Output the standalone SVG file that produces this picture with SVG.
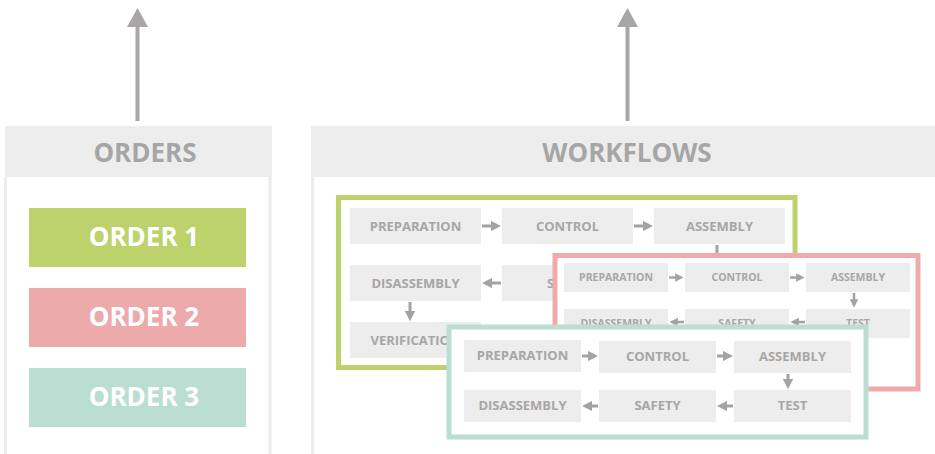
<svg xmlns="http://www.w3.org/2000/svg" width="935" height="454" viewBox="0 0 935 454">
<style>
.hdr{fill:#ecedec}
.side{stroke:#ececec;stroke-width:3;fill:none}
.htxt{font-family:"Open Sans","Liberation Sans",sans-serif;font-weight:bold;font-size:26px;fill:#a6a6a6;text-anchor:middle}
.otxt{font-family:"Open Sans","Liberation Sans",sans-serif;font-weight:bold;font-size:26px;fill:#ffffff;text-anchor:middle}
.box{fill:#ecedec}
.t13{font-family:"Open Sans","Liberation Sans",sans-serif;font-weight:bold;font-size:13px;fill:#a8a6a6;text-anchor:middle}
.t10{font-family:"Open Sans","Liberation Sans",sans-serif;font-weight:bold;font-size:10.5px;fill:#a8a6a6;text-anchor:middle}
.frame{fill:#ffffff;stroke-width:5}
.arr{stroke:#a5a2a2;stroke-width:3;fill:none;marker-end:url(#ah)}
.arrs{stroke:#a5a2a2;stroke-width:2.5;fill:none;marker-end:url(#ah)}
.up{stroke:#a9a6a6;stroke-width:4}
.uph{fill:#a9a6a6}
</style>
<defs>
<marker id="ah" viewBox="0 0 10 10" refX="1" refY="5" markerWidth="3.4" markerHeight="3.4" orient="auto" markerUnits="strokeWidth">
<path d="M0,0 L10,5 L0,10 z" fill="#a5a2a2"/>
</marker>
<clipPath id="clipSafety"><rect x="500" y="260" width="53" height="45"/></clipPath>
</defs>

<g id="orders-panel">
<rect class="hdr" x="5" y="126" width="267" height="51"/>
<line class="side" x1="5.5" y1="177" x2="5.5" y2="454"/>
<line class="side" x1="270" y1="177" x2="270" y2="454"/>
<text class="htxt" x="145" y="162">ORDERS</text>
</g>
<g id="workflows-panel">
<rect class="hdr" x="311" y="126" width="624" height="51"/>
<line class="side" x1="312.5" y1="177" x2="312.5" y2="454"/>
<text class="htxt" x="627" y="162">WORKFLOWS</text>
</g>

<g id="order1"><rect x="29" y="208" width="217" height="59" fill="#bdd26a"/><text class="otxt" x="144" y="246">ORDER 1</text></g>
<g id="order2"><rect x="29" y="288" width="217" height="59" fill="#edaaab"/><text class="otxt" x="144" y="326">ORDER 2</text></g>
<g id="order3"><rect x="29" y="368" width="217" height="59" fill="#bbded2"/><text class="otxt" x="144" y="406">ORDER 3</text></g>

<g id="up-arrows">
<line class="up" x1="137.5" y1="121" x2="137.5" y2="24"/>
<polygon class="uph" points="127,27 148,27 137.5,8"/>
<line class="up" x1="627.5" y1="121" x2="627.5" y2="24"/>
<polygon class="uph" points="617,27 638,27 627.5,8"/>
</g>

<g id="workflow1">
<rect class="frame" stroke="#bdd26a" x="338.5" y="197.5" width="456.5" height="170"/>
<g id="w1-preparation"><rect class="box" x="350" y="208" width="131" height="36"/><text class="t13" x="415.5" y="231">PREPARATION</text></g>
<g id="w1-control"><rect class="box" x="502" y="208" width="131" height="36"/><text class="t13" x="567.5" y="231">CONTROL</text></g>
<g id="w1-assembly"><rect class="box" x="654" y="208" width="131" height="36"/><text class="t13" x="719.5" y="231">ASSEMBLY</text></g>
<g id="w1-disassembly"><rect class="box" x="350" y="265" width="131" height="36"/><text class="t13" x="415.5" y="288">DISASSEMBLY</text></g>
<g id="w1-safety"><rect class="box" x="502" y="265" width="131" height="36"/><text class="t13" x="570" y="288" clip-path="url(#clipSafety)">SAFETY</text></g>
<g id="w1-verification"><rect class="box" x="350" y="322" width="131" height="36"/><text class="t13" x="415.5" y="345">VERIFICATION</text></g>
<g id="w1-connectors">
<line class="arr" x1="482" y1="226" x2="492" y2="226"/>
<line class="arr" x1="634" y1="226" x2="644" y2="226"/>
<line class="arr" x1="717" y1="245" x2="717" y2="262"/>
<line class="arr" x1="501" y1="283" x2="491" y2="283"/>
<line class="arr" x1="410" y1="302" x2="410" y2="312"/>
</g>
</g>

<g id="workflow2">
<rect class="frame" stroke="#efabac" x="555" y="255.5" width="363" height="133.5"/>
<g id="w2-preparation"><rect class="box" x="564" y="263" width="104" height="29"/><text class="t10" x="616" y="281">PREPARATION</text></g>
<g id="w2-control"><rect class="box" x="685" y="263" width="104" height="29"/><text class="t10" x="737" y="281">CONTROL</text></g>
<g id="w2-assembly"><rect class="box" x="806" y="263" width="104" height="29"/><text class="t10" x="858" y="281">ASSEMBLY</text></g>
<g id="w2-disassembly"><rect class="box" x="564" y="309" width="104" height="29"/><text class="t10" x="616" y="327">DISASSEMBLY</text></g>
<g id="w2-safety"><rect class="box" x="685" y="309" width="104" height="29"/><text class="t10" x="737" y="327">SAFETY</text></g>
<g id="w2-test"><rect class="box" x="806" y="309" width="104" height="29"/><text class="t10" x="858" y="327">TEST</text></g>
<g id="w2-connectors">
<line class="arrs" x1="669" y1="277.5" x2="676" y2="277.5"/>
<line class="arrs" x1="790" y1="277.5" x2="797" y2="277.5"/>
<line class="arrs" x1="854" y1="293" x2="854" y2="300"/>
<line class="arrs" x1="805" y1="322" x2="798" y2="322"/>
<line class="arrs" x1="684" y1="322" x2="677" y2="322"/>
</g>
</g>

<g id="workflow3">
<rect class="frame" stroke="#bbded2" stroke-width="5.5" x="449" y="327" width="417" height="110"/>
<g id="w3-preparation"><rect class="box" x="464" y="340" width="117" height="32"/><text class="t13" x="522.5" y="360">PREPARATION</text></g>
<g id="w3-control"><rect class="box" x="599" y="341" width="117" height="32"/><text class="t13" x="657.5" y="361">CONTROL</text></g>
<g id="w3-assembly"><rect class="box" x="734" y="341" width="117" height="32"/><text class="t13" x="792.5" y="361">ASSEMBLY</text></g>
<g id="w3-disassembly"><rect class="box" x="464" y="390" width="117" height="32"/><text class="t13" x="522.5" y="410">DISASSEMBLY</text></g>
<g id="w3-safety"><rect class="box" x="599" y="390" width="117" height="32"/><text class="t13" x="657.5" y="410">SAFETY</text></g>
<g id="w3-test"><rect class="box" x="734" y="390" width="117" height="32"/><text class="t13" x="792.5" y="410">TEST</text></g>
<g id="w3-connectors">
<line class="arr" x1="582" y1="356" x2="589" y2="356"/>
<line class="arr" x1="717" y1="356" x2="724" y2="356"/>
<line class="arr" x1="788" y1="374" x2="788" y2="380"/>
<line class="arr" x1="733" y1="406" x2="726" y2="406"/>
<line class="arr" x1="598" y1="406" x2="591" y2="406"/>
</g>
</g>
</svg>
